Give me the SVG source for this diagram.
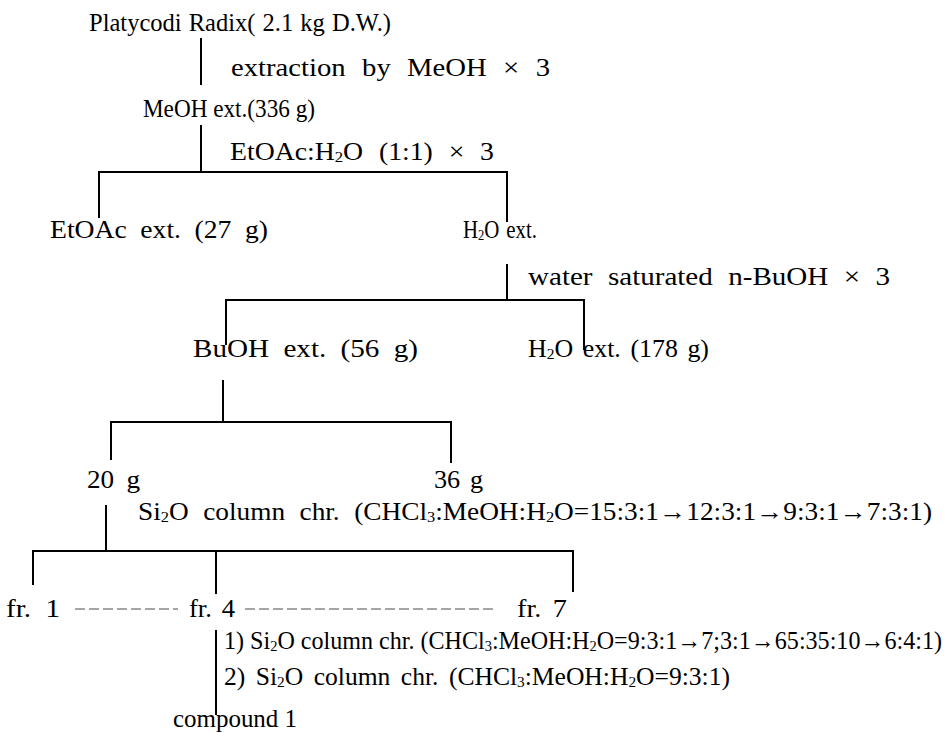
<svg xmlns="http://www.w3.org/2000/svg" width="951" height="733" viewBox="0 0 951 733">
<style>
text{font-family:"Liberation Serif","Times New Roman",serif;font-size:25px;fill:#000}
.sub{font-size:15px}
.ln{stroke:#000;stroke-width:2;fill:none}
.dash{stroke:#888;stroke-width:1.5;stroke-dasharray:10 4;fill:none}
</style>
<rect width="951" height="733" fill="#fff"/>
<g id="connectors">
<path class="ln" d="M201 38V85"/>
<path class="ln" d="M201 125V172M99 218V172H507V222"/>
<path class="ln" d="M507 264V300M226 345V300H584V350"/>
<path class="ln" d="M223 380V422M111 460V422H451V463"/>
<path class="ln" d="M106 505V551M33 585V551H573V592M216 551V594"/>
<path class="ln" d="M216 630V715"/>
<path class="dash" d="M75 609H178M245 609H497"/>
</g>
<g id="n-platycodi"><text x="89" y="31" word-spacing="1" textLength="302" lengthAdjust="spacingAndGlyphs">Platycodi Radix( 2.1 kg D.W.)</text></g>
<g id="l-extraction"><text x="231" y="76" word-spacing="8" textLength="319" lengthAdjust="spacingAndGlyphs">extraction by MeOH × 3</text></g>
<g id="n-meoh"><text x="143" y="117" font-size="24" textLength="172" lengthAdjust="spacingAndGlyphs">MeOH ext.(336 g)</text></g>
<g id="l-etoac"><text x="230" y="160" word-spacing="8" textLength="264" lengthAdjust="spacingAndGlyphs">EtOAc:H<tspan class="sub" dy="2">2</tspan><tspan dy="-2">O (1:1) × 3</tspan></text></g>
<g id="n-etoac"><text x="50" y="238" word-spacing="6" textLength="218" lengthAdjust="spacingAndGlyphs">EtOAc ext. (27 g)</text></g>
<g id="n-h2o"><text x="463" y="238" font-size="24" word-spacing="2" textLength="74" lengthAdjust="spacingAndGlyphs">H<tspan class="sub" dy="2">2</tspan><tspan dy="-2">O ext.</tspan></text></g>
<g id="l-water"><text x="528" y="285" word-spacing="7" textLength="362" lengthAdjust="spacingAndGlyphs">water saturated n-BuOH × 3</text></g>
<g id="n-buoh"><text x="193" y="357" word-spacing="6" textLength="225" lengthAdjust="spacingAndGlyphs">BuOH ext. (56 g)</text></g>
<g id="n-h2o2"><text x="528" y="357" word-spacing="3" textLength="181" lengthAdjust="spacingAndGlyphs">H<tspan class="sub" dy="2">2</tspan><tspan dy="-2">O ext. (178 g)</tspan></text></g>
<g id="n-20g"><text x="87" y="488" word-spacing="5" textLength="53" lengthAdjust="spacingAndGlyphs">20 g</text></g>
<g id="n-36g"><text x="434" y="488" word-spacing="3" textLength="49" lengthAdjust="spacingAndGlyphs">36 g</text></g>
<g id="l-si2o"><text x="138" y="520" word-spacing="7" textLength="794" lengthAdjust="spacingAndGlyphs">Si<tspan class="sub" dy="2">2</tspan><tspan dy="-2">O column chr. (CHCl</tspan><tspan class="sub" dy="2">3</tspan><tspan dy="-2">:MeOH:H</tspan><tspan class="sub" dy="2">2</tspan><tspan dy="-2">O=15:3:1→12:3:1→9:3:1→7:3:1)</tspan></text></g>
<g id="n-fr1"><text x="6" y="617" word-spacing="6" textLength="54" lengthAdjust="spacingAndGlyphs">fr. 1</text></g>
<g id="n-fr4"><text x="189" y="617" word-spacing="3" textLength="46" lengthAdjust="spacingAndGlyphs">fr. 4</text></g>
<g id="n-fr7"><text x="517" y="617" word-spacing="4" textLength="50" lengthAdjust="spacingAndGlyphs">fr. 7</text></g>
<g id="l-step1"><text x="224" y="649" textLength="718" lengthAdjust="spacingAndGlyphs">1) Si<tspan class="sub" dy="2">2</tspan><tspan dy="-2">O column chr. (CHCl</tspan><tspan class="sub" dy="2">3</tspan><tspan dy="-2">:MeOH:H</tspan><tspan class="sub" dy="2">2</tspan><tspan dy="-2">O=9:3:1→7;3:1→65:35:10→6:4:1)</tspan></text></g>
<g id="l-step2"><text x="224" y="685" word-spacing="4" textLength="506" lengthAdjust="spacingAndGlyphs">2) Si<tspan class="sub" dy="2">2</tspan><tspan dy="-2">O column chr. (CHCl</tspan><tspan class="sub" dy="2">3</tspan><tspan dy="-2">:MeOH:H</tspan><tspan class="sub" dy="2">2</tspan><tspan dy="-2">O=9:3:1)</tspan></text></g>
<g id="n-compound"><text x="173" y="727" textLength="124" lengthAdjust="spacingAndGlyphs">compound 1</text></g>
</svg>
